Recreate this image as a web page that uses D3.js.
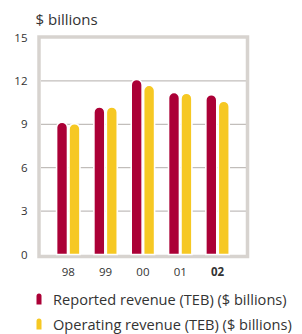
<!DOCTYPE html>
<html>
<head>
  <meta charset="utf-8">
  <script src="https://cdn.jsdelivr.net/npm/d3@7"></script>
  <style>
    body { margin: 0; background: #fff; }
    text { font-family: "Open Sans", sans-serif; fill: #333; }
  </style>
</head>
<body>
  <div id="chart"></div>
  <script>
    // data
    var years = ['98', '99', '00', '01', '02'];
    var reported = [9.15, 10.2, 12.1, 11.2, 11.05];
    var operating = [9.05, 10.2, 11.7, 11.15, 10.6];
    var yTicks = [0, 3, 6, 9, 12, 15];
    var seriesNames = ['Reported revenue (TEB) ($ billions)', 'Operating revenue (TEB) ($ billions)'];
    var colors = ['#ab0036', '#f6c823'];

    var width = 302, height = 334;
    var svg = d3.select('#chart').append('svg')
      .attr('width', width).attr('height', height);

    var y = d3.scaleLinear().domain([0, 15]).range([254.5, 37.5]);
    var x = d3.scaleBand().domain(years).range([49.6, 236.2]);
    var xs = d3.scaleBand().domain([0, 1]).range([0, x.bandwidth()]).paddingInner(0.12).paddingOuter(0.56);

    // gridlines
    svg.append('g').selectAll('line')
      .data(yTicks.filter(function (d) { return d > 0 && d < 15; }))
      .join('line')
      .attr('x1', 41).attr('x2', 246)
      .attr('y1', function (d) { return y(d); })
      .attr('y2', function (d) { return y(d); })
      .attr('stroke', '#b3aeab').attr('stroke-width', 1);

    // frame
    svg.append('rect')
      .attr('x', 39).attr('y', 37)
      .attr('width', 208.5).attr('height', 219.5)
      .attr('fill', 'none').attr('stroke', '#d7d3cf').attr('stroke-width', 3.5);

    // bar with rounded top
    function barPath(x0, w, yTop, yBase) {
      var r = w / 2;
      return 'M' + x0 + ',' + yBase +
        'V' + (yTop + r) +
        'A' + r + ',' + r + ' 0 0 1 ' + (x0 + w) + ',' + (yTop + r) +
        'V' + yBase + 'Z';
    }

    var rows = years.map(function (yr, i) {
      return { year: yr, vals: [reported[i], operating[i]] };
    });

    var groups = svg.append('g').selectAll('g')
      .data(rows).join('g')
      .attr('transform', function (d) { return 'translate(' + x(d.year) + ',0)'; });

    groups.selectAll('path')
      .data(function (d) { return d.vals.map(function (v, k) { return { v: v, k: k }; }); })
      .join('path')
      .attr('d', function (d) { return barPath(xs(d.k), xs.bandwidth(), y(d.v), y(0)); })
      .attr('fill', function (d) { return colors[d.k]; })
      .attr('stroke', '#fff').attr('stroke-width', 1.6);

    // y axis labels
    svg.append('g').selectAll('text')
      .data(yTicks).join('text')
      .attr('x', 27.5)
      .attr('y', function (d) { return y(d); })
      .attr('dy', '0.35em')
      .attr('text-anchor', 'end')
      .style('font-size', '11.5px')
      .text(function (d) { return d; });

    // x axis labels
    svg.append('g').selectAll('text')
      .data(years).join('text')
      .attr('x', function (d) { return x(d) + x.bandwidth() / 2; })
      .attr('y', 275.5)
      .attr('text-anchor', 'middle')
      .style('font-size', '11.5px')
      .style('font-weight', function (d) { return d === '02' ? 'bold' : 'normal'; })
      .text(function (d) { return d; });

    // unit title
    svg.append('text')
      .attr('x', 35.5).attr('y', 25)
      .style('font-size', '15px')
      .text('$ billions');

    // legend
    var legend = svg.append('g').selectAll('g')
      .data(seriesNames).join('g')
      .attr('transform', function (d, i) { return 'translate(0,' + (304.5 + i * 25) + ')'; });
    legend.append('path')
      .attr('d', barPath(36.5, 5, -11, 0))
      .attr('fill', function (d, i) { return colors[i]; });
    legend.append('text')
      .attr('x', 53).attr('y', 0)
      .style('font-size', '14.6px')
      .text(function (d) { return d; });
  </script>
</body>
</html>
